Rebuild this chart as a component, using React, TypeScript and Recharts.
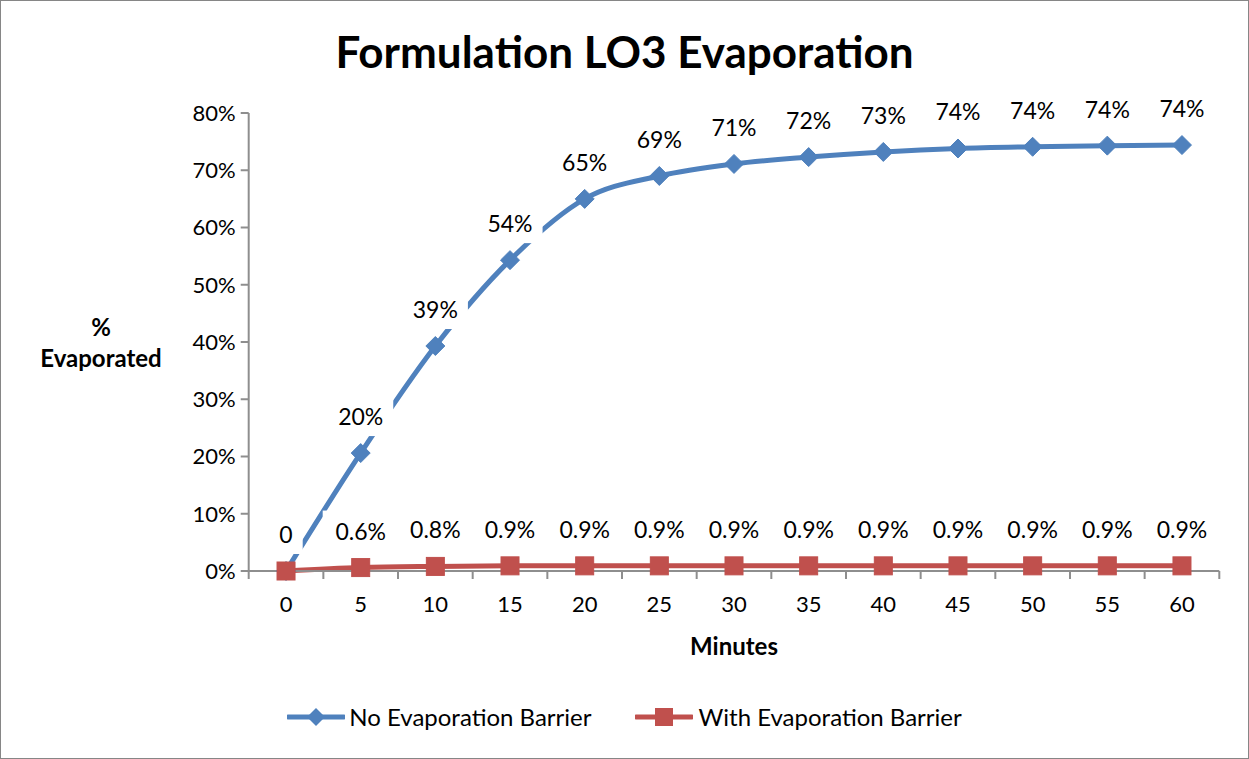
import React from "react";
import {
  LineChart,
  Line,
  XAxis,
  YAxis,
  CartesianGrid,
  Legend,
  LabelList,
  Label,
} from "recharts";

const minutes = ["0", "5", "10", "15", "20", "25", "30", "35", "40", "45", "50", "55", "60"];
const noBarrier = [0, 20.6, 39.3, 54.3, 65.0, 69.0, 71.1, 72.3, 73.2, 73.8, 74.1, 74.3, 74.4];
const withBarrier = [0, 0.6, 0.8, 0.9, 0.9, 0.9, 0.9, 0.9, 0.9, 0.9, 0.9, 0.9, 0.9];
const noBarrierLabels = ["0", "20%", "39%", "54%", "65%", "69%", "71%", "72%", "73%", "74%", "74%", "74%", "74%"];
const withBarrierLabels = ["", "0.6%", "0.8%", "0.9%", "0.9%", "0.9%", "0.9%", "0.9%", "0.9%", "0.9%", "0.9%", "0.9%", "0.9%"];
const yTicks = [0, 10, 20, 30, 40, 50, 60, 70, 80];

const BLUE = "#4F81BD";
const RED = "#C0504D";
const GRID = "#8e8e8e";
const FONT = "Lato, 'Open Sans', sans-serif";

const data = minutes.map((m, i) => ({
  minute: m,
  noBarrier: noBarrier[i],
  withBarrier: withBarrier[i],
  noLabel: noBarrierLabels[i],
  withLabel: withBarrierLabels[i],
}));

const ctx = typeof document !== "undefined" ? document.createElement("canvas").getContext("2d") : null;
function measure(s: string, size: number) {
  if (!ctx) return s.length * size * 0.55;
  ctx.font = `${size}px Lato`;
  return ctx.measureText(s).width;
}

// white boxed data label, like Excel
function boxLabel(fixedWidth?: number) {
  return (props: any) => {
    const { x, y, value } = props;
    if (value === "" || value == null) return null;
    const w = fixedWidth ?? measure(String(value), 23) + 20;
    const cy = y - 37;
    return (
      <g>
        <rect x={x - w / 2} y={cy - 20} width={w} height={40} fill="#fff" />
        <text x={x} y={cy} textAnchor="middle" dominantBaseline="central" fontSize={23} fontFamily={FONT} fill="#000">
          {value}
        </text>
      </g>
    );
  };
}

const Diamond = (props: any) => {
  const { cx, cy } = props;
  if (cx == null || cy == null) return null;
  const r = 9.5;
  return <polygon points={`${cx},${cy - r} ${cx + r},${cy} ${cx},${cy + r} ${cx - r},${cy}`} fill={BLUE} stroke={BLUE} strokeWidth={1} />;
};

const Square = (props: any) => {
  const { cx, cy } = props;
  if (cx == null || cy == null) return null;
  return <rect x={cx - 9} y={cy - 9} width={18} height={18} fill={RED} stroke={RED} strokeWidth={1} />;
};

const XTick = (props: any) => {
  const { x, y, payload, index } = props;
  const off = payload.offset ?? 0;
  return (
    <g>
      <line x1={x - off} y1={y} x2={x - off} y2={y + 8} stroke={GRID} strokeWidth={2} />
      {index === minutes.length - 1 && <line x1={x + off} y1={y} x2={x + off} y2={y + 8} stroke={GRID} strokeWidth={2} />}
      <text x={x} y={y + 32} textAnchor="middle" dominantBaseline="central" fontSize={22} fontFamily={FONT} fill="#000">
        {payload.value}
      </text>
    </g>
  );
};

const LegendContent = () => (
  <div style={{ display: "flex", justifyContent: "center", alignItems: "center", gap: 43, fontFamily: FONT, fontSize: 24, color: "#000" }}>
    <div style={{ display: "flex", alignItems: "center", gap: 4 }}>
      <svg width={58} height={24}>
        <line x1={1} y1={12} x2={57} y2={12} stroke={BLUE} strokeWidth={5} strokeLinecap="round" />
        <polygon points="29,3 38,12 29,21 20,12" fill={BLUE} />
      </svg>
      <span>No Evaporation Barrier</span>
    </div>
    <div style={{ display: "flex", alignItems: "center", gap: 6 }}>
      <svg width={58} height={24}>
        <line x1={1} y1={12} x2={57} y2={12} stroke={RED} strokeWidth={5} strokeLinecap="round" />
        <rect x={20} y={3} width={18} height={18} fill={RED} />
      </svg>
      <span>With Evaporation Barrier</span>
    </div>
  </div>
);

export default function App() {
  return (
    <div style={{ position: "absolute", left: 0, top: 0, width: 1249, height: 759, background: "#fff" }}>
      <LineChart width={1249} height={759} data={data} margin={{ top: 113, right: 29.7, left: 0, bottom: 108 }}>
        <rect x={0.5} y={0.5} width={1248} height={758} fill="#fff" stroke="#868686" strokeWidth={1} />
        <text x={624.5} y={51} textAnchor="middle" dominantBaseline="central" fontSize={44} fontWeight="bold" fontFamily={FONT} fill="#000">
          Formulation LO3 Evaporation
        </text>
        <CartesianGrid vertical={false} stroke={GRID} strokeWidth={2} />
        <XAxis
          dataKey="minute"
          scale="band"
          height={80}
          interval={0}
          tickSize={0}
          tickMargin={0}
          tickLine={false}
          axisLine={{ stroke: GRID, strokeWidth: 2 }}
          tick={<XTick />}
        >
          <Label
            content={(p: any) => {
              const vb = p.viewBox;
              return (
                <text x={vb.x + vb.width / 2} y={vb.y + 74} textAnchor="middle" dominantBaseline="central" fontSize={24} fontWeight="bold" fontFamily={FONT} fill="#000">
                  Minutes
                </text>
              );
            }}
          />
        </XAxis>
        <YAxis
          width={248.7}
          domain={[0, 80]}
          ticks={yTicks}
          interval={0}
          tickFormatter={(v: number) => `${v}%`}
          tickSize={8}
          tickMargin={5}
          tickLine={{ stroke: GRID, strokeWidth: 2 }}
          axisLine={{ stroke: GRID, strokeWidth: 2 }}
          tick={{ fontSize: 22, fontFamily: FONT, fill: "#000" }}
        >
          <Label
            content={(p: any) => {
              const vb = p.viewBox;
              const cy = vb.y + vb.height / 2;
              return (
                <g>
                  <text x={101} y={cy - 15.5} textAnchor="middle" dominantBaseline="central" fontSize={24} fontWeight="bold" fontFamily={FONT} fill="#000">
                    %
                  </text>
                  <text x={101} y={cy + 15.5} textAnchor="middle" dominantBaseline="central" fontSize={24} fontWeight="bold" fontFamily={FONT} fill="#000">
                    Evaporated
                  </text>
                </g>
              );
            }}
          />
        </YAxis>
        <Legend
          layout="horizontal"
          verticalAlign="middle"
          align="center"
          wrapperStyle={{ top: 702, left: 0, width: 1249, height: 30 }}
          content={<LegendContent />}
        />
        <Line
          type="monotone"
          dataKey="noBarrier"
          name="No Evaporation Barrier"
          stroke={BLUE}
          strokeWidth={5}
          dot={<Diamond />}
          activeDot={false}
          isAnimationActive={false}
        >
          <LabelList dataKey="noLabel" content={boxLabel()} />
        </Line>
        <Line
          type="monotone"
          dataKey="withBarrier"
          name="With Evaporation Barrier"
          stroke={RED}
          strokeWidth={5}
          dot={<Square />}
          activeDot={false}
          isAnimationActive={false}
        >
          <LabelList dataKey="withLabel" content={boxLabel(76)} />
        </Line>
      </LineChart>
    </div>
  );
}
